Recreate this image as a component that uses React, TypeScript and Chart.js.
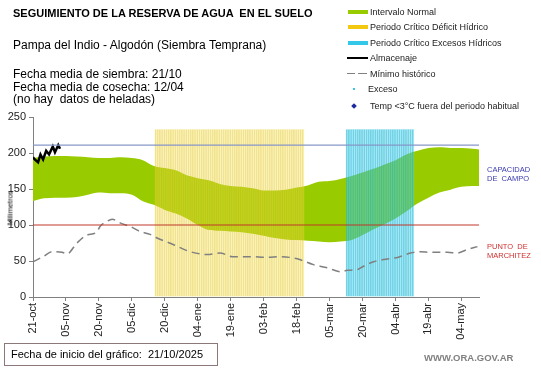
import React, { useEffect, useRef } from 'react';
import { Chart, registerables } from 'chart.js';

Chart.register(...registerables);

// ---------- data ----------
const TICK_LABELS = ['21-oct', '05-nov', '20-nov', '05-dic', '20-dic', '04-ene', '19-ene', '03-feb', '18-feb', '05-mar', '20-mar', '04-abr', '19-abr', '04-may'];
const TICK_STEP_DAYS = 15;
const X_MAX_DAYS = 203;

const BAND_DAYS = [0, 5, 10, 15, 20, 25, 30, 35, 40, 45, 50, 55, 60, 65, 70, 75, 80, 85, 90, 95, 100, 105, 110, 115, 120, 125, 130, 135, 140, 145, 150, 155, 160, 165, 170, 175, 180, 185, 190, 195, 200, 203];
const BAND_UPPER = [193, 195, 196, 196, 195, 194, 193, 193, 194, 193, 190, 182, 179, 176, 169, 165, 162, 157, 154, 153, 151, 148, 148, 149, 152, 155, 160, 161, 164, 168, 173, 178, 184, 190, 198, 203, 207, 208, 207, 207, 206, 205];
const BAND_LOWER = [133, 137, 138, 138, 139, 142, 145, 144, 144, 142, 133, 128, 121, 116, 109, 100, 93, 92, 91, 90, 88, 85, 82, 80, 79, 78, 77, 76, 77, 79, 86, 94, 101, 109, 119, 130, 138, 145, 149, 153, 154, 154];

const MIN_DAYS = [0, 4.6, 8.7, 13.2, 15.5, 20, 24.6, 29, 30.5, 33.7, 36, 39.6, 45.6, 48.7, 53.3, 56.5, 63.8, 71.5, 79.3, 85, 91, 98.9, 106.6, 112.5, 120.3, 127.6, 134, 140, 143, 147.6, 150, 155, 159.5, 166, 171.8, 176.3, 181, 188.6, 193, 197.7, 202.3];
const MIN_HIST = [49, 56, 63, 62, 60, 75, 86, 90, 98, 105, 108, 103, 96, 91, 87, 82, 73, 63, 59, 61, 56, 56, 55, 56, 53, 45, 40.5, 35, 37, 38, 42, 49, 52, 55, 61, 63, 62, 62, 61, 66, 70];

const ALM_DAYS = [0, 0.8, 2.3, 3.4, 4.6, 6, 7.3, 9, 10, 11.5, 12.3];
const ALMACENAJE = [194, 191, 187, 198, 191, 203, 198, 209, 201, 211, 206];

const DEFICIT_FIRST_DAY = 56;
const DEFICIT_LAST_DAY = 123;
const EXCESO_FIRST_DAY = 143;
const EXCESO_LAST_DAY = 173;
const PERIOD_TOP = 233;

const CAPACIDAD_CAMPO = 211;
const PUNTO_MARCHITEZ = 100;

const LEGEND_LABELS = ['Intervalo Normal', 'Periodo Crítico Déficit Hídrico', 'Periodo Crítico Excesos Hídricos', 'Almacenaje', 'Mínimo histórico', 'Exceso', 'Temp <3°C fuera del periodo habitual'];

// ---------- helpers ----------
const pts = (xs: number[], ys: number[]) => xs.map((x, i) => ({ x, y: ys[i] }));
const periodBars = (first: number, last: number) => {
  const out: { x: number; y: number }[] = [];
  for (let d = first; d <= last; d++) out.push({ x: d, y: PERIOD_TOP });
  return out;
};

const FONT = '"Liberation Sans", Arial, sans-serif';

export default function App() {
  const ref = useRef<HTMLCanvasElement | null>(null);

  useEffect(() => {
    if (!ref.current) return;
    const chart = new Chart(ref.current, {
      type: 'line',
      data: {
        datasets: [
          {
            type: 'line',
            label: 'Capacidad de campo',
            data: [{ x: 0, y: CAPACIDAD_CAMPO }, { x: X_MAX_DAYS, y: CAPACIDAD_CAMPO }],
            borderColor: '#8797C8',
            borderWidth: 1.4,
            pointRadius: 0,
            order: 0,
          },
          {
            type: 'line',
            label: 'Punto de marchitez',
            data: [{ x: 0, y: PUNTO_MARCHITEZ }, { x: X_MAX_DAYS, y: PUNTO_MARCHITEZ }],
            borderColor: '#C0392B',
            borderWidth: 1.2,
            pointRadius: 0,
            order: 0,
          },
          {
            type: 'line',
            label: 'Almacenaje',
            data: pts(ALM_DAYS, ALMACENAJE),
            borderColor: '#000000',
            borderWidth: 2.5,
            pointRadius: 0,
            tension: 0,
            order: 0,
          },
          {
            type: 'line',
            label: 'Mínimo histórico',
            data: pts(MIN_DAYS, MIN_HIST),
            borderColor: '#808080',
            borderWidth: 1.5,
            borderDash: [8, 5],
            pointRadius: 0,
            cubicInterpolationMode: 'monotone',
            order: 1,
          },
          {
            type: 'bar',
            label: 'Periodo Crítico Déficit Hídrico',
            data: periodBars(DEFICIT_FIRST_DAY, DEFICIT_LAST_DAY),
            backgroundColor: 'rgba(245,225,90,0.28)',
            borderColor: 'rgba(230,200,40,0.5)',
            borderWidth: { left: 1, right: 0, top: 0, bottom: 0 },
            borderSkipped: false,
            barPercentage: 1,
            categoryPercentage: 1,
            grouped: false,
            order: 2,
          },
          {
            type: 'bar',
            label: 'Periodo Crítico Excesos Hídricos',
            data: periodBars(EXCESO_FIRST_DAY, EXCESO_LAST_DAY),
            backgroundColor: 'rgba(90,205,230,0.4)',
            borderColor: 'rgba(20,185,215,0.6)',
            borderWidth: { left: 1, right: 0, top: 0, bottom: 0 },
            borderSkipped: false,
            barPercentage: 1,
            categoryPercentage: 1,
            grouped: false,
            order: 2,
          },
          {
            type: 'line',
            label: 'Intervalo Normal',
            data: pts(BAND_DAYS, BAND_UPPER),
            borderWidth: 0,
            borderColor: 'rgba(0,0,0,0)',
            backgroundColor: '#99CC00',
            fill: '+1',
            pointRadius: 0,
            cubicInterpolationMode: 'monotone',
            order: 3,
          },
          {
            type: 'line',
            label: 'Intervalo Normal (inf)',
            data: pts(BAND_DAYS, BAND_LOWER),
            borderWidth: 0,
            borderColor: 'rgba(0,0,0,0)',
            pointRadius: 0,
            cubicInterpolationMode: 'monotone',
            order: 3,
          },
        ],
      } as any,
      options: {
        animation: false,
        responsive: false,
        devicePixelRatio: 1,
        layout: { padding: { top: 117, right: 62, left: 0, bottom: 0 } },
        plugins: { legend: { display: false }, tooltip: { enabled: false }, title: { display: false } },
        scales: {
          x: {
            type: 'linear',
            min: 0,
            max: X_MAX_DAYS,
            offset: false,
            afterFit: (s: any) => { s.height = 71; },
            grid: { display: true, drawOnChartArea: false, drawTicks: true, tickLength: 4, color: '#808080', offset: false },
            border: { display: true, color: '#808080', width: 1 },
            ticks: {
              stepSize: TICK_STEP_DAYS,
              includeBounds: false,
              autoSkip: false,
              minRotation: 90,
              maxRotation: 90,
              padding: 2,
              color: '#222',
              font: { family: FONT, size: 11 },
              callback: (v: any) => {
                const i = Math.round(Number(v) / TICK_STEP_DAYS);
                return Number(v) % TICK_STEP_DAYS === 0 ? TICK_LABELS[i] ?? '' : '';
              },
            },
          },
          y: {
            type: 'linear',
            min: 0,
            max: 250,
            afterFit: (s: any) => { s.width = 33; },
            grid: { display: true, drawOnChartArea: false, drawTicks: true, tickLength: 4, color: '#808080' },
            border: { display: true, color: '#808080', width: 1 },
            ticks: { stepSize: 50, padding: 3, color: '#222', font: { family: FONT, size: 11 } },
          },
        },
      } as any,
    });
    return () => chart.destroy();
  }, []);

  const legendTop = [11.7, 27, 42.7, 58.3, 73.5, 89.3, 105.5];

  const abs = (style: React.CSSProperties): React.CSSProperties => ({ position: 'absolute', margin: 0, whiteSpace: 'pre', fontFamily: FONT, ...style });

  return (
    <div style={{ position: 'absolute', left: 0, top: 0, width: 541, height: 368, background: '#fff', overflow: 'hidden' }}>
      <canvas ref={ref} width={541} height={368} style={{ position: 'absolute', left: 0, top: 0, width: 541, height: 368 }} />

      <div style={abs({ left: 13, top: 6, fontSize: 11, fontWeight: 'bold', color: '#000', lineHeight: '14px' })}>SEGUIMIENTO DE LA RESERVA DE AGUA  EN EL SUELO</div>
      <div style={abs({ left: 13, top: 38, fontSize: 12, color: '#000', lineHeight: '14px' })}>Pampa del Indio - Algodón (Siembra Temprana)</div>
      <div style={abs({ left: 13, top: 68, fontSize: 12, color: '#000', lineHeight: '12.6px' })}>
        {'Fecha media de siembra: 21/10\nFecha media de cosecha: 12/04\n(no hay  datos de heladas)'}
      </div>

      {/* legend */}
      <div style={abs({ left: 348, top: legendTop[0] - 2, width: 20, height: 4, background: '#99CC00' })} />
      <div style={abs({ left: 348, top: legendTop[1] - 2, width: 20, height: 4, background: '#F2C811' })} />
      <div style={abs({ left: 348, top: legendTop[2] - 2, width: 20, height: 4, background: '#33C8E8' })} />
      <div style={abs({ left: 347, top: legendTop[3] - 1, width: 21, height: 2, background: '#000' })} />
      <div style={abs({ left: 347, top: legendTop[4] - 0.75, width: 8, height: 1.5, background: '#808080' })} />
      <div style={abs({ left: 358, top: legendTop[4] - 0.75, width: 9, height: 1.5, background: '#808080' })} />
      <div style={abs({ left: 353, top: legendTop[5] - 1, width: 2, height: 2, background: '#33C8E8' })} />
      <div style={abs({ left: 352, top: legendTop[6] - 2, width: 4, height: 4, background: '#1F2A9F', transform: 'rotate(45deg)' })} />
      {LEGEND_LABELS.map((t, i) => (
        <div key={t} style={abs({ left: i === 5 ? 368 : 370, top: legendTop[i] - 6, fontSize: 9, color: '#222', lineHeight: '12px' })}>{t}</div>
      ))}

      {/* right-side labels */}
      <div style={abs({ left: 487, top: 165, fontSize: 7.5, color: '#3A3AB0', lineHeight: '9px' })}>{'CAPACIDAD\nDE  CAMPO'}</div>
      <div style={abs({ left: 487, top: 242, fontSize: 7.5, color: '#D03030', lineHeight: '9px' })}>{'PUNTO  DE\nMARCHITEZ'}</div>

      {/* y title */}
      <div style={abs({ left: 10, top: 208, fontSize: 7.5, color: '#000', lineHeight: '9px', transform: 'translate(-50%, -50%) rotate(-90deg)' })}>Milímetros</div>

      {/* bottom */}
      <div style={abs({ left: 4, top: 343, width: 206, height: 21, border: '1px solid #8C7878', fontSize: 11, color: '#000', lineHeight: '21px', paddingLeft: 6, boxSizing: 'content-box' as any })}>
        {'Fecha de inicio del gráfico:  21/10/2025'}
      </div>
      <div style={abs({ left: 424, top: 352, fontSize: 9.5, fontWeight: 'bold', color: '#808080', lineHeight: '12px' })}>WWW.ORA.GOV.AR</div>
    </div>
  );
}
